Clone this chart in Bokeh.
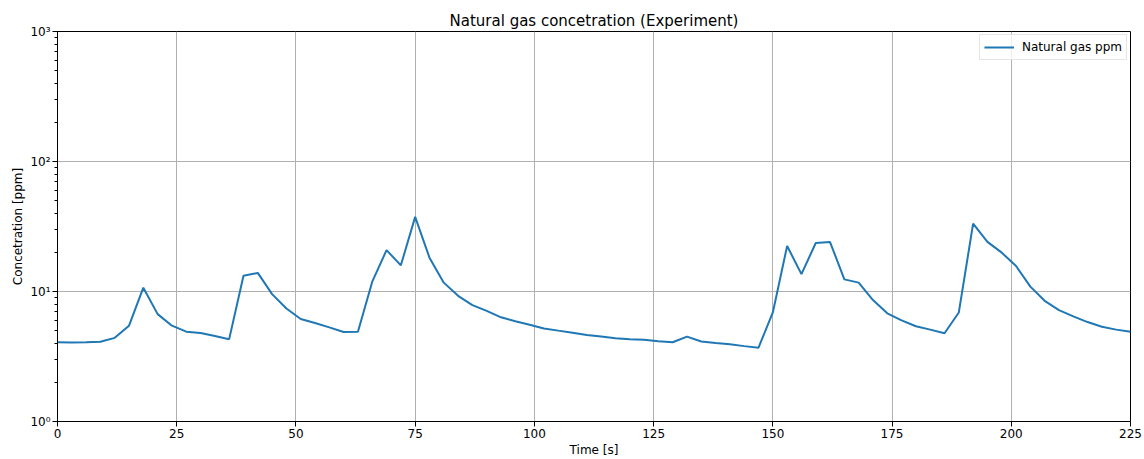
from bokeh.plotting import figure
from bokeh.models import Range1d, FixedTicker, LogTicker, Legend, LegendItem
from bokeh.embed import file_html
from bokeh.resources import INLINE

time_s = list(range(0, 226, 3))
gas_ppm = [
    4.07, 4.05, 4.07, 4.1, 4.4, 5.46, 10.7, 6.7, 5.46, 4.91,
    4.8, 4.55, 4.3, 13.2, 13.9, 9.55, 7.4, 6.14, 5.72, 5.3,
    4.88, 4.9, 11.9, 20.8, 15.9, 37.5, 18.2, 11.7, 9.26, 7.86,
    7.1, 6.33, 5.9, 5.55, 5.2, 5.0, 4.82, 4.63, 4.5, 4.37,
    4.3, 4.26, 4.14, 4.07, 4.5, 4.12, 4.02, 3.93, 3.8, 3.7,
    6.9, 22.4, 13.6, 23.6, 24.0, 12.4, 11.7, 8.6, 6.8, 6.0,
    5.4, 5.09, 4.77, 6.9, 33.3, 24.1, 19.9, 15.7, 10.9, 8.48,
    7.2, 6.44, 5.82, 5.36, 5.09, 4.91,
]
x_ticks = [0, 25, 50, 75, 100, 125, 150, 175, 200, 225]
y_tick_labels = {1: "10⁰", 10: "10¹", 100: "10²", 1000: "10³"}

FONT = "DejaVu Sans"

p = figure(width=1144, height=459, y_axis_type="log",
           x_range=Range1d(0, 225), y_range=Range1d(1, 1000),
           output_backend="svg", toolbar_location=None,
           title="Natural gas concetration (Experiment)")
p.min_border_left = 57
p.min_border_right = 14
p.min_border_top = 31
p.min_border_bottom = 36

p.title.align = "center"
p.title.text_font = FONT
p.title.text_font_size = "15px"
p.title.text_font_style = "normal"
p.title.text_color = "black"
p.title.standoff = 4

r = p.line(time_s, gas_ppm, line_color="#1f77b4", line_width=2)

p.xaxis.ticker = FixedTicker(ticks=x_ticks)
p.yaxis.ticker = LogTicker(num_minor_ticks=10)
p.yaxis.major_label_overrides = y_tick_labels
p.xaxis.axis_label = "Time [s]"
p.yaxis.axis_label = "Concetration [ppm]"

for ax in (p.xaxis[0], p.yaxis[0]):
    ax.axis_label_text_font = FONT
    ax.axis_label_text_font_size = "12px"
    ax.axis_label_text_font_style = "normal"
    ax.axis_label_text_color = "black"
    ax.axis_label_standoff = 2
    ax.major_label_text_font = FONT
    ax.major_label_text_font_size = "12px"
    ax.major_label_text_color = "black"
    ax.major_label_standoff = 2
    ax.major_tick_out = 5
    ax.major_tick_in = 0
    ax.minor_tick_out = 3
    ax.minor_tick_in = 0
    ax.axis_line_color = "black"
    ax.major_tick_line_color = "black"
    ax.minor_tick_line_color = "black"
p.xaxis.minor_tick_line_color = None

p.xgrid.grid_line_color = "#b0b0b0"
p.ygrid.grid_line_color = "#b0b0b0"
p.xgrid.grid_line_width = 1
p.ygrid.grid_line_width = 1
p.outline_line_color = "black"
p.outline_line_width = 1
p.outline_line_alpha = 1

legend = Legend(items=[LegendItem(label="Natural gas ppm", renderers=[r])],
                location="top_right")
legend.label_text_font = FONT
legend.label_text_font_size = "12px"
legend.label_text_color = "black"
legend.border_line_color = "#cccccc"
legend.background_fill_alpha = 0.8
legend.margin = 3
legend.padding = 4
legend.spacing = 0
legend.glyph_width = 30
legend.glyph_height = 16
legend.label_standoff = 8
legend.label_height = 16
p.add_layout(legend)

open("out.html", "w").write(file_html(p, INLINE))
